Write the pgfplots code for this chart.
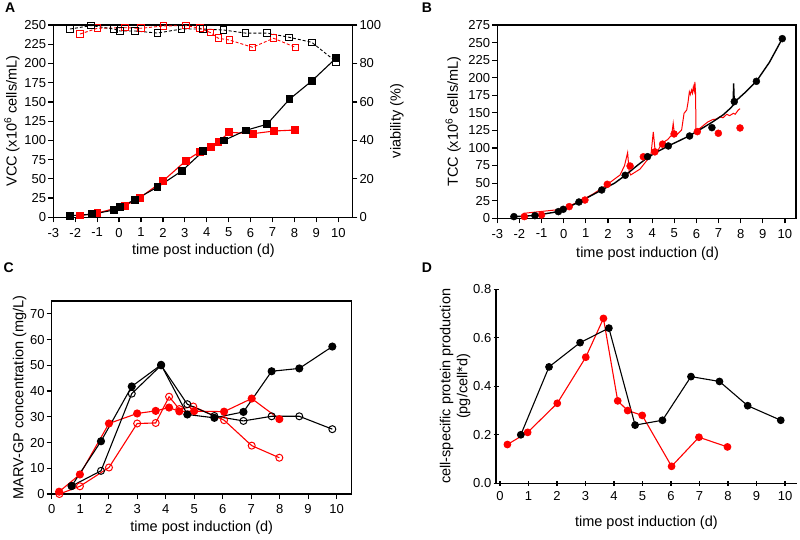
\documentclass[border=0pt]{standalone}
\usepackage{pgfplots}
\pgfplotsset{compat=1.18}
\usepackage{fontspec}
\setmainfont{Liberation Sans}
\pgfplotsset{
  panel/.style={
    scale only axis, anchor=south west, clip=false,
    axis line style={line width=1.2pt},
    tick style={line width=1.2pt, black},
    major tick length=5pt,
    tick align=outside,
    xtick pos=bottom, ytick pos=left,
    /pgf/number format/assume math mode=true,
    tick label style={font=\fontsize{13}{15}\selectfont},
    xticklabel style={inner sep=1.5pt, yshift=-4pt},
    yticklabel style={inner sep=2pt},
    label style={font=\fontsize{14.5}{17}\selectfont},
  },
  blk/.style={black, line width=1.1pt, mark options={solid}},
  rd/.style={red, line width=1.1pt, mark options={solid}},
}
\begin{document}
\begin{tikzpicture}
\useasboundingbox (0pt,0pt) rectangle (800pt,539pt);
\def\tlab{time post induction (d)}
% ---------------- Panel A -----------------
\begin{axis}[panel, at={(53.3pt,321.7pt)}, width=299pt, height=192.3pt,
  xmin=-3, xmax=10.64, ymin=0, ymax=250,
  xtick={-3,-2,...,10}, ytick={0,25,...,250},
  xlabel={\tlab}, xlabel style={at={(axis description cs:0.502,-0.175)}, anchor=center},
  ylabel={VCC (x10\textsuperscript{6} cells/mL)},
  ylabel style={at={(axis description cs:-0.138,0.5)}, anchor=center}]
\addplot[rd, mark=square*, mark size=3.3pt] coordinates {
(-1.78,2.2) (-0.99,5.5) (0.27,15) (0.95,25.5) (2.02,47.6) (3.05,73.6) (3.69,85.3)
(4.18,91) (4.53,98) (5.03,110.5) (6.10,108.7) (7.08,112.2) (8.04,113.5)};
\addplot[blk, mark=square*, mark size=3.3pt] coordinates {
(-2.24,2.1) (-1.25,3.9) (-0.23,9.5) (0.04,13) (0.73,22.9) (1.76,39.4) (2.86,60.2)
(3.84,86) (4.79,100) (5.78,113) (6.75,121) (7.77,153.4) (8.79,177.2) (9.90,207)};
\end{axis}
\begin{axis}[panel, at={(53.3pt,321.7pt)}, width=299pt, height=192.3pt,
  xmin=-3, xmax=10.64, ymin=0, ymax=100,
  axis x line=none, axis y line*=right, ytick pos=right,
  ytick={0,20,...,100},
  ylabel={viability (\%)},
  every axis y label/.style={at={(axis description cs:1.149,0.5)}, anchor=center, rotate=90, font=\fontsize{14.5}{17}\selectfont}]
\addplot[red, line width=0.9pt, dash pattern=on 3pt off 2pt, mark=square, mark size=3.3pt, mark options={solid, line width=1pt}] coordinates {
(-1.78,95.3) (-0.99,98.3) (0.27,98.6) (1.0,98.3) (2.03,99.5) (3.05,99.7) (3.69,98.3)
(4.18,96) (4.53,93.1) (5.03,92.2) (6.09,88.4) (7.05,93.1) (8.04,88.4)};
\addplot[black, line width=0.9pt, dash pattern=on 3pt off 2pt, mark=square, mark size=3.3pt, mark options={solid, line width=1pt}] coordinates {
(-2.24,97.9) (-1.27,99.7) (-0.24,97.9) (0.04,96.9) (0.73,96.9) (1.75,95.8) (2.84,97.9)
(3.84,97.9) (4.77,97.4) (5.76,95.8) (6.76,95.8) (7.76,93.6) (8.79,91) (9.90,80.9)};
\end{axis}
% ---------------- Panel B -----------------
\begin{axis}[panel, at={(497.3pt,320.7pt)}, width=298.7pt, height=193.3pt,
  xmin=-3, xmax=10.5, ymin=0, ymax=275,
  xtick={-3,-2,...,10}, ytick={0,25,...,275},
  xlabel={\tlab}, xlabel style={at={(axis description cs:0.503,-0.182)}, anchor=center},
  ylabel={TCC (x10\textsuperscript{6} cells/mL)},
  ylabel style={at={(axis description cs:-0.148,0.5)}, anchor=center}]
\addplot[red, line width=1pt] coordinates {
(-1.83,7) (-0.39,11.8) (-0.1,13) (0.13,15.7) (0.74,24.7) (1.3,34) (1.94,47.4)
(2.55,61.7) (2.75,75) (2.89,93.4) (2.96,66) (3.03,61.7) (3.45,70) (3.75,82) (3.95,92)
(4.05,123) (4.12,100) (4.2,92.5) (4.43,106.7) (4.7,112) (4.88,118.5) (4.95,135) (5.0,121)
(5.1,118.5) (5.33,125.6) (5.44,149.4) (5.56,154) (5.62,165) (5.68,180) (5.72,176) (5.78,182.5)
(5.82,178) (5.86,187) (5.9,181) (5.93,194) (5.96,178) (5.98,125.6) (6.16,128) (6.35,133)
(6.53,137.4) (6.76,140.8) (6.9,141) (7.06,144.6) (7.2,143) (7.37,148) (7.5,146) (7.67,149.4)
(7.75,148) (7.89,154) (7.97,156)};
\addplot[only marks, red, mark=*, mark size=3.5pt] coordinates {
(-1.78,2.4) (-1.0,4.7) (0.25,16.6) (0.96,26) (1.97,48.4) (3.0,74.4) (3.6,87.5)
(4.12,94.5) (4.47,105.5) (4.99,120) (6.04,123.3) (6.99,121) (7.97,128.5)};
\addplot[black, line width=1.4pt] coordinates {
(-2.25,2.4) (-1.3,4) (-0.25,9.5) (0,12.8) (0.7,23.2) (1.72,40.3) (2.3,50) (2.78,61)
(3.3,74.5) (3.79,86.5) (4.25,95) (4.73,103) (5.2,110) (5.69,117.5) (6.2,127) (6.7,136.5)
(7.2,147) (7.55,157) (7.66,161) (7.68,192) (7.71,165) (8.2,179) (8.71,194.9) (9.3,222) (9.88,255.6)};
\addplot[only marks, black, mark=*, mark size=3.5pt] coordinates {
(-2.25,2.4) (-1.3,3.8) (-0.24,9.5) (-0.02,12.8) (0.69,23.2) (1.72,40.3) (2.78,61.2)
(3.79,87.7) (4.73,102.9) (5.69,117.1) (6.7,129) (7.71,166) (8.71,194.9) (9.88,255.6)};
\end{axis}
% ---------------- Panel C -----------------
\begin{axis}[panel, at={(51.7pt,45pt)}, width=300pt, height=193pt,
  xmin=0, xmax=10.53, ymin=0, ymax=75,
  xtick={0,1,...,10}, ytick={0,10,...,70},
  xlabel={\tlab}, xlabel style={at={(axis description cs:0.5,-0.176)}, anchor=center},
  ylabel={MARV-GP concentration (mg/L)},
  ylabel style={at={(axis description cs:-0.107,0.5)}, anchor=center}]
\addplot[rd, mark=o, mark size=3.5pt, mark options={fill=white, line width=1pt}] coordinates {
(0.27,0) (0.99,3.0) (2.01,10.3) (3.0,27.4) (3.65,27.6) (4.12,37.8) (4.48,33) (4.97,34)
(6.05,28.7) (7.02,18.8) (7.99,14.1)};
\addplot[rd, mark=*, mark size=3.5pt] coordinates {
(0.26,0.9) (0.99,7.6) (2.01,27.4) (3.0,31.3) (3.65,32.3) (4.12,33.6) (4.48,32.1) (5.0,32.2)
(6.05,32) (7.02,37.1) (7.99,29.1)};
\addplot[blk, mark=o, mark size=3.5pt, mark options={fill=white, line width=1pt}] coordinates {
(0.70,3.1) (1.73,9.0) (2.81,39.0) (3.84,50) (4.76,34.9) (5.71,30.3) (6.73,28.4) (7.72,30.2)
(8.69,30.2) (9.85,25.2)};
\addplot[blk, mark=*, mark size=3.5pt] coordinates {
(0.70,3.1) (1.73,20.5) (2.81,41.8) (3.84,50.2) (4.76,30.9) (5.71,29.6) (6.73,31.9)
(7.72,47.7) (8.69,48.8) (9.85,57.3)};
\end{axis}
% ---------------- Panel D -----------------
\begin{axis}[panel, at={(496pt,55.7pt)}, width=300.7pt, height=194pt,
  axis lines=left, axis line style={-, line width=1.2pt},
  xmin=-0.14, xmax=10.41, ymin=0, ymax=0.8,
  xtick={0,1,...,10}, ytick={0,0.2,...,0.8},
  yticklabel style={/pgf/number format/.cd, fixed, fixed zerofill, precision=1},
  xlabel={\tlab}, xlabel style={at={(axis description cs:0.5,-0.202)}, anchor=center},
  ylabel={cell-specific protein production\\(pg/cell*d)},
  ylabel style={at={(axis description cs:-0.136,0.5)}, anchor=center, align=center}]
\addplot[rd, mark=*, mark size=3.3pt] coordinates {
(0.26,0.16) (0.97,0.21) (2.01,0.33) (3.01,0.52) (3.63,0.68) (4.13,0.34) (4.48,0.30)
(4.99,0.28) (6.02,0.07) (6.98,0.19) (7.98,0.15)};
\addplot[blk, mark=*, mark size=3.3pt] coordinates {
(0.73,0.20) (1.72,0.48) (2.81,0.58) (3.82,0.64) (4.74,0.24) (5.70,0.26) (6.70,0.44)
(7.70,0.42) (8.69,0.32) (9.85,0.26)};
\end{axis}
% panel letters
\node[anchor=north west, inner sep=0pt, font=\fontsize{14}{16}\selectfont\bfseries] at (5pt,536.3pt) {A};
\node[anchor=north west, inner sep=0pt, font=\fontsize{14}{16}\selectfont\bfseries] at (421.7pt,536.3pt) {B};
\node[anchor=north west, inner sep=0pt, font=\fontsize{14}{16}\selectfont\bfseries] at (3.3pt,276.5pt) {C};
\node[anchor=north west, inner sep=0pt, font=\fontsize{14}{16}\selectfont\bfseries] at (421.7pt,276.5pt) {D};
\end{tikzpicture}
\end{document}
